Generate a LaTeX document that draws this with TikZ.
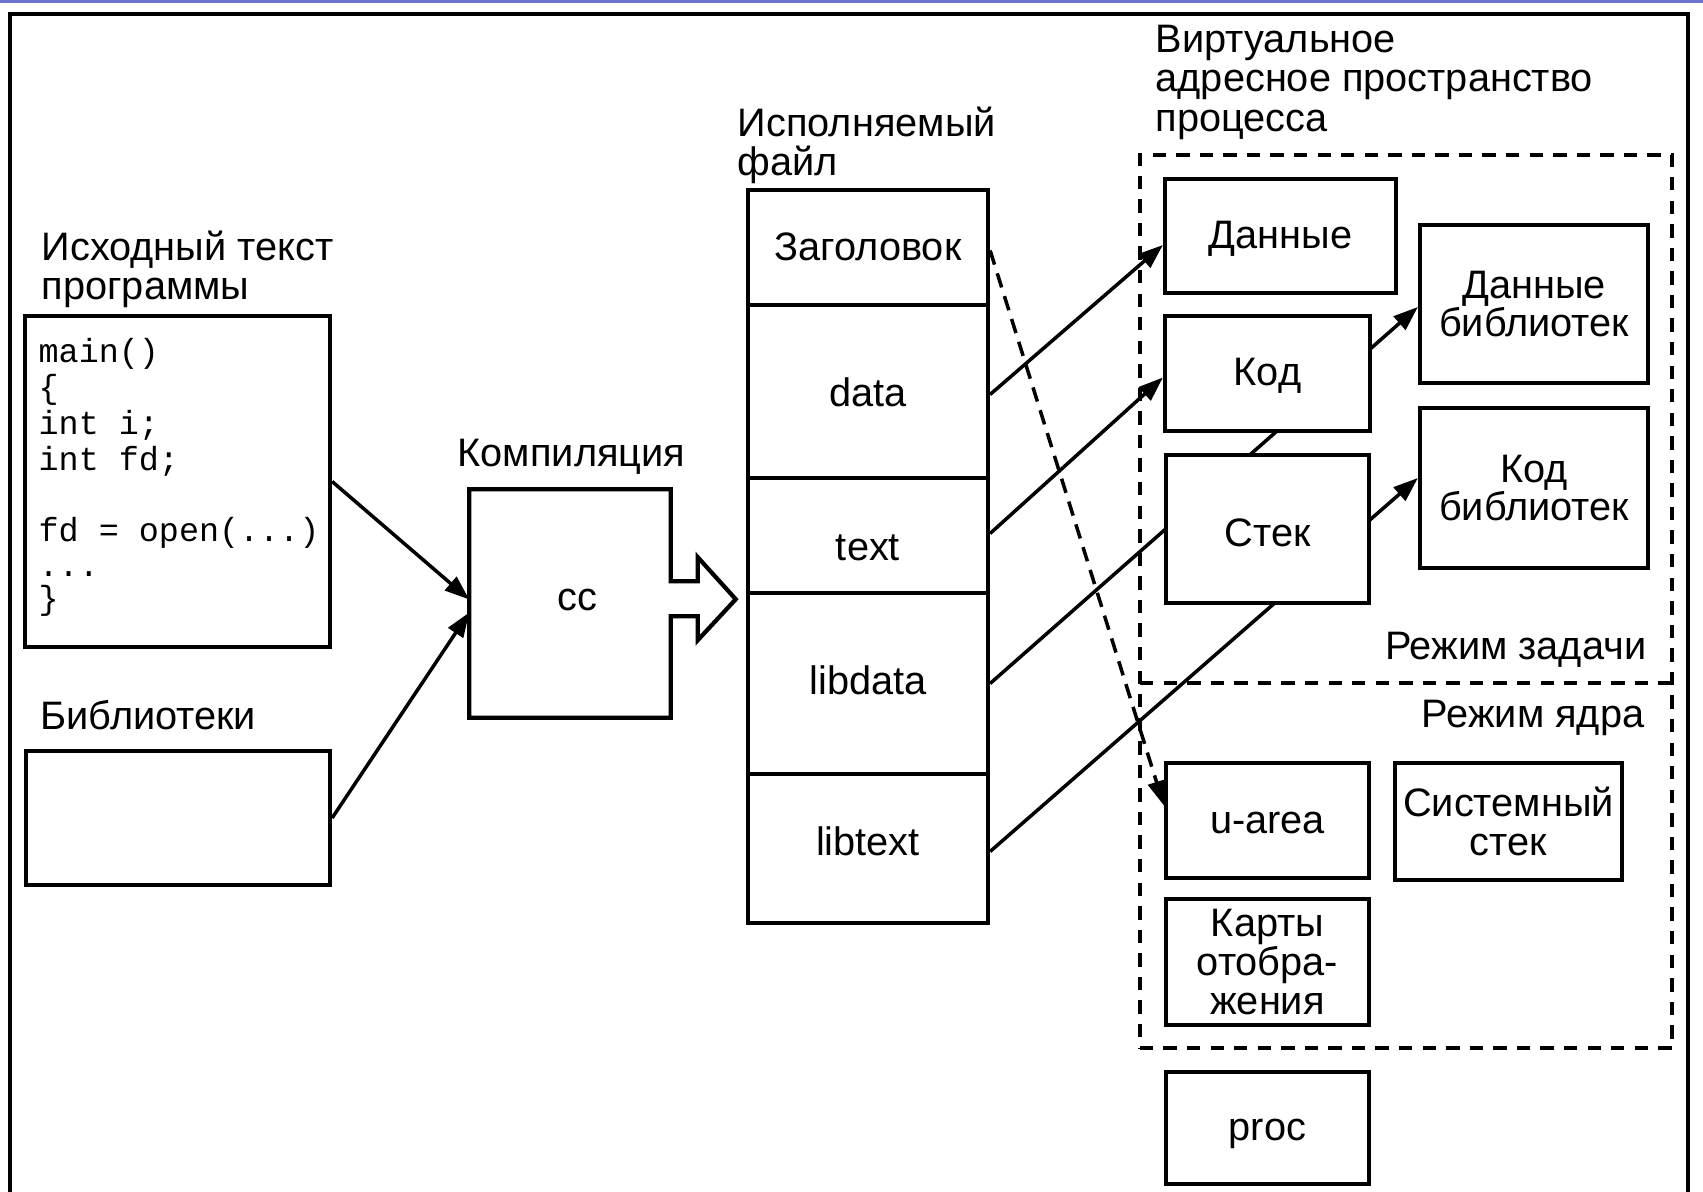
\documentclass[tikz,border=0pt]{standalone}
\usepackage{fontspec}
\setmainfont{Liberation Sans}
\setmonofont{Liberation Mono}
\usetikzlibrary{arrows.meta,calc,backgrounds}
\definecolor{topbar}{RGB}{105,115,205}
% one line of text whose baseline sits #1 below the centre of its box
\newcommand{\boxline}[2]{\raisebox{-#1}[0pt][0pt]{#2}}
\begin{document}
\begin{tikzpicture}[x=0.01cm,y=-0.01cm,
  every node/.style={font=\fontsize{11.3}{11}\selectfont},
  box/.style 2 args={draw, line width=1.2pt, inner sep=0pt, fill=white, align=center,
    minimum width=#1*0.01cm, minimum height=#2*0.01cm},
  lbl/.style={anchor=base west, inner sep=0pt},
  lblr/.style={anchor=base east, inner sep=0pt},
  srcline/.style={anchor=base west, inner sep=0pt, font=\fontsize{9.5}{10}\ttfamily},
  conn/.style={line width=1pt, -{Triangle[length=7pt,width=5pt]}},
  dashconn/.style={conn, dash pattern=on 4.2pt off 2.6pt},
  region/.style={line width=1.2pt, dash pattern=on 3.8pt off 2.9pt},
]
\useasboundingbox (0,0) rectangle (1703,1192);

% thin bar along the top edge and the outer frame
\fill[topbar] (0,0) rectangle (1703,3);
\draw[line width=1.3pt] (10,1192) -- (10,14) -- (1688,14) -- (1688,1192);

% ---- source text and libraries ----
\node[lbl] (srcT1) at (41,261) {Исходный текст};
\node[lbl] (srcT2) at (41,300) {программы};
\node[box={305}{331}] (src) at (177.5,481.5) {};
\node[srcline] (c1) at (38,363) {main()};
\node[srcline] (c2) at (38,399) {\{};
\node[srcline] (c3) at (38,435) {int i;};
\node[srcline] (c4) at (38,471) {int fd;};
\node[srcline] (c5) at (38,542) {fd = open(...)};
\node[srcline] (c6) at (38,577) {...};
\node[srcline] (c7) at (38,610) {\}};

\node[lbl] (libT) at (40,730) {Библиотеки};
\node[box={304}{134}] (lib) at (178,818) {};

% ---- compiler with its outgoing block arrow ----
\node[lbl] (ccT) at (457,467) {Компиляция};
\node[inner sep=0pt, minimum width=2cm, minimum height=2.27cm] (cc) at (570,603.5) {};
\node (ccL) at (577,600) {cc};
\draw[line width=1.2pt, line join=miter]
  (cc.north west) -- (cc.north east) -- ($(cc.north east)+(0,92)$)
  -- ++(27,0) -- ++(0,-24) -- ++(38,42) -- ++(-38,41) -- ++(0,-24) -- ++(-27,0)
  -- (cc.south east) -- (cc.south west) -- cycle;

% ---- executable file ----
\node[lbl] (exeT1) at (737,137) {Исполняемый};
\node[lbl] (exeT2) at (737,176) {файл};
\node[box={240}{115}] (hdr)  at (868,247.5) {\boxline{3.6pt}{Заголовок}};
\node[box={240}{173}] (dat)  at (868,391.5) {\boxline{4.2pt}{data}};
\node[box={240}{115}] (txt)  at (868,535.5) {\boxline{7.0pt}{text}};
\node[box={240}{181}] (ldat) at (868,683.5) {\boxline{3.0pt}{libdata}};
\node[box={240}{149}] (ltxt) at (868,848.5) {\boxline{2.0pt}{libtext}};

% ---- virtual address space of the process ----
\node[lbl] (vasT1) at (1155,53) {Виртуальное};
\node[lbl] (vasT2) at (1155,92) {адресное пространство};
\node[lbl] (vasT3) at (1155,132) {процесса};
\node[region, draw, inner sep=0pt, minimum width=5.32cm, minimum height=8.93cm] (vas) at (1406,601.5) {};
\coordinate (sepL) at (1140,683);
\coordinate (sepR) at (1672,683);
\draw[region] (sepL) -- (sepR);
\node[lblr] (userT) at (1647,660) {Режим задачи};
\node[lblr] (kernT) at (1645,728) {Режим ядра};

\node[box={231}{114}] (dan)  at (1280.5,236)   {\boxline{3.6pt}{Данные}};
\node[box={205}{115}] (kod)  at (1267.5,373.5) {\boxline{3.3pt}{Код}};
\node[box={203}{148}] (stk)  at (1267.5,529)   {\boxline{5.0pt}{Стек}};
\node[box={228}{158}] (dlib) at (1534,304)     {Данные\\библиотек};
\node[box={228}{160}] (klib) at (1534,488)     {Код\\библиотек};
\node[box={203}{115}] (uar)  at (1267.5,820.5) {\boxline{3.6pt}{u-area}};
\node[box={227}{117}] (sst)  at (1508.5,821.5) {Системный\\стек};
\node[box={203}{126}] (maps) at (1267.5,962)   {Карты\\отобра-\\жения};
\node[box={203}{112}] (proc) at (1267.5,1128)  {\boxline{3.5pt}{proc}};

% ---- connectors, kept underneath the boxes ----
\begin{pgfonlayer}{background}
\draw[conn] (src.east) -- ($(cc.west)+(0,-4)$);
\draw[conn] (lib.east) -- ($(cc.west)+(0,9)$);
\draw[conn] ($(dat.east)+(0,3)$) -- ($(dan.west)+(0,9)$);
\draw[conn] ($(txt.east)+(0,-2)$) -- ($(kod.west)+(0,4)$);
\draw[conn] (ldat.east) -- ($(dlib.west)+(0,3)$);
\draw[conn] ($(ltxt.east)+(0,3)$) -- ($(klib.west)+(0,-10)$);
\draw[dashconn] ($(hdr.east)+(0,3)$) -- ($(uar.west)+(0,-15)$);
\end{pgfonlayer}
\end{tikzpicture}
\end{document}
